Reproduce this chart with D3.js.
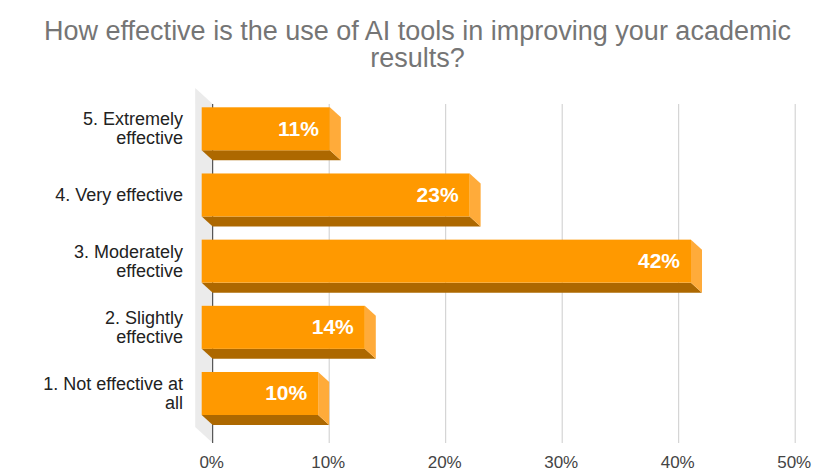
<!DOCTYPE html>
<html>
<head>
<meta charset="utf-8">
<script src="https://cdn.jsdelivr.net/npm/d3@7/dist/d3.min.js"></script>
<style>
  html, body { margin: 0; padding: 0; background: #fff; }
  svg { display: block; font-family: "Liberation Sans", Arial, sans-serif; }
</style>
</head>
<body>
<svg id="chart" width="815" height="471"></svg>
<script>
const titleLines = ["How effective is the use of AI tools in improving your academic", "results?"];
const categories = [
  ["5. Extremely", "effective"],
  ["4. Very effective"],
  ["3. Moderately", "effective"],
  ["2. Slightly", "effective"],
  ["1. Not effective at", "all"]
];
const values = [11, 23, 42, 14, 10];
const ticks = [0, 10, 20, 30, 40, 50];
const tickLabels = ["0%", "10%", "20%", "30%", "40%", "50%"];

const W = 815, H = 471;
const dx = 11, dy = 10;           // bar depth
const wallDx = 17.5, wallDy = 16; // wall depth
const svg = d3.select("#chart");

const x = d3.scaleLinear().domain([0, 50]).range([201.7, 784.2]);
const keys = categories.map((c, i) => i);
const y = d3.scaleBand().domain(keys).range([107.3, 415]).paddingInner(0.35).paddingOuter(0);
const gridTop = 104, gridBottom = 443;

// title
svg.append("g").selectAll("text").data(titleLines).join("text")
  .attr("x", W / 2 + 10)
  .attr("y", (d, i) => 40 + i * 27)
  .attr("text-anchor", "middle")
  .attr("font-size", 27)
  .attr("fill", "#757575")
  .text(d => d);

// left wall
const x0 = x(0);
svg.append("path")
  .attr("d", `M${x0 + dx - wallDx},${gridTop - wallDy} L${x0 + dx},${gridTop} L${x0 + dx},${gridBottom} L${x0 + dx - wallDx},${gridBottom - wallDy} Z`)
  .attr("fill", "#ebebeb");

// gridlines (back plane)
svg.append("g").selectAll("line").data(ticks).join("line")
  .attr("x1", d => x(d) + dx).attr("x2", d => x(d) + dx)
  .attr("y1", gridTop).attr("y2", gridBottom)
  .attr("stroke", d => d === 0 ? "#333" : "#cccccc")
  .attr("stroke-width", 1);

// axis labels
svg.append("g").selectAll("text").data(ticks).join("text")
  .attr("x", d => x(d) + dx - 1)
  .attr("y", 468)
  .attr("text-anchor", "middle")
  .attr("font-size", 17)
  .attr("fill", "#444")
  .text((d, i) => tickLabels[i]);

// bars
const bars = svg.append("g").selectAll("g").data(values).join("g");
bars.append("path") // bottom face
  .attr("d", (d, i) => {
    const yb = y(i) + y.bandwidth();
    return `M${x(0)},${yb} L${x(d)},${yb} L${x(d) + dx},${yb + dy} L${x(0) + dx},${yb + dy} Z`;
  })
  .attr("fill", "#ad6800");
bars.append("path") // right face
  .attr("d", (d, i) => {
    const yt = y(i), yb = y(i) + y.bandwidth();
    return `M${x(d)},${yt} L${x(d) + dx},${yt + dy} L${x(d) + dx},${yb + dy} L${x(d)},${yb} Z`;
  })
  .attr("fill", "#ffab3a");
bars.append("rect") // front face
  .attr("x", x(0))
  .attr("y", (d, i) => y(i))
  .attr("width", d => x(d) - x(0))
  .attr("height", y.bandwidth())
  .attr("fill", "#ff9900");
bars.append("text")
  .attr("x", d => x(d) - 11)
  .attr("y", (d, i) => y(i) + y.bandwidth() / 2 + 7)
  .attr("text-anchor", "end")
  .attr("font-size", 21)
  .attr("font-weight", "bold")
  .attr("fill", "#fff")
  .text(d => d + "%");

// category labels
const lab = svg.append("g").selectAll("text").data(categories).join("text")
  .attr("text-anchor", "end")
  .attr("font-size", 18)
  .attr("fill", "#222");
lab.each(function(lines, i) {
  const cy = y(i) + y.bandwidth() / 2;
  const n = lines.length;
  d3.select(this).selectAll("tspan").data(lines).join("tspan")
    .attr("x", 183)
    .attr("y", (l, j) => cy + 6 + (j - (n - 1) / 2) * 19)
    .text(l => l);
});
</script>
</body>
</html>
